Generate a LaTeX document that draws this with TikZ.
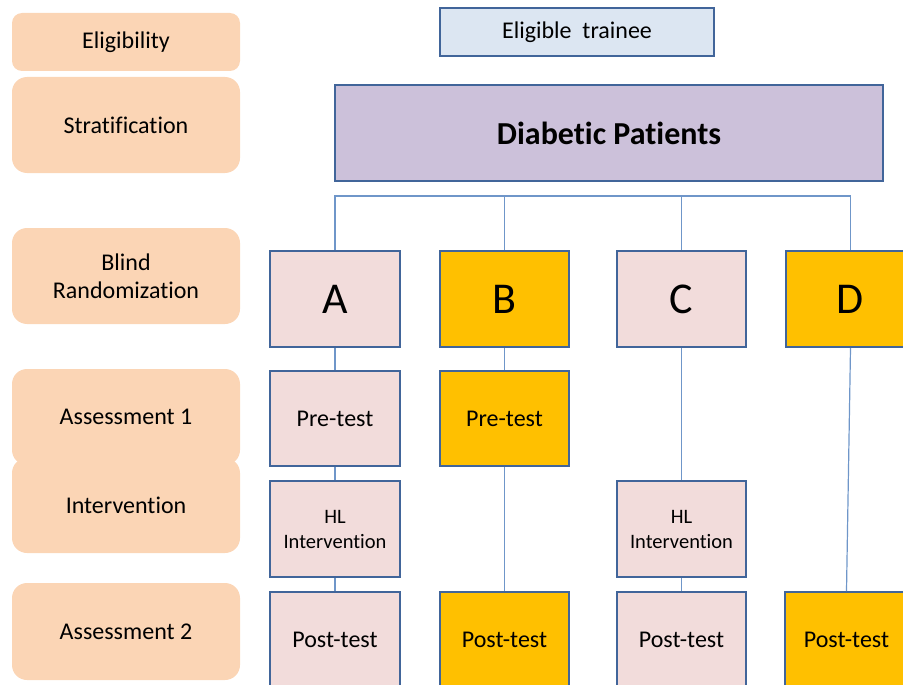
\documentclass[tikz,border=0pt]{standalone}
\usepackage{fontspec}
\setmainfont{Carlito}[Ligatures=NoCommon]
\definecolor{lblfill}{HTML}{FBD5B5}
\definecolor{trfill}{HTML}{DCE6F2}
\definecolor{dpfill}{HTML}{CCC1DA}
\definecolor{pinkfill}{HTML}{F2DCDB}
\definecolor{orfill}{HTML}{FFC000}
\definecolor{bordc}{HTML}{41659A}
\definecolor{connc}{HTML}{6F96C9}
\begin{document}
\begin{tikzpicture}[x=1pt,y=-1pt,
  lbl/.style={fill=lblfill, draw=none, rounded corners=15pt, minimum width=228pt, inner sep=0pt, align=center, font=\fontsize{24}{28}\selectfont},
  box/.style={draw=bordc, line width=2pt, inner sep=0pt, align=center, font=\fontsize{24}{29}\selectfont},
  pinkbox/.style={box, fill=pinkfill},
  orbox/.style={box, fill=orfill},
  letter/.style={font=\fontsize{44}{50}\selectfont, minimum height=96pt},
  conn/.style={draw=connc, line width=1.2pt}
]
\useasboundingbox (0,0) rectangle (903,685);
\clip (0,0) rectangle (903,685);
% left labels
\node[lbl, minimum height=58pt, rounded corners=10pt] (elig) at (126,42) {Eligibility};
\node[lbl, minimum height=96pt] (strat) at (126,125) {Stratification};
\node[lbl, minimum height=96pt] (blind) at (126,276) {Blind\\Randomization};
\node[lbl, minimum height=96pt] (ass1) at (126,417) {Assessment 1};
\node[lbl, minimum height=95pt] (interv) at (126,505.5) {Intervention};
\node[lbl, minimum height=97pt] (ass2) at (126,631.5) {Assessment 2};
% top boxes
\node[box, fill=trfill, minimum width=274pt, minimum height=48pt] (trainee) at (577,32) {Eligible~ trainee};
\node[box, fill=dpfill, minimum width=548pt, minimum height=96pt, font=\fontsize{32}{38}\selectfont\bfseries] (diab) at (609,133) {Diabetic Patients};
% groups
\node[pinkbox, letter, minimum width=130pt] (A) at (335,299) {A};
\node[orbox, letter, minimum width=129pt] (B) at (504.5,299) {B};
\node[pinkbox, letter, minimum width=129pt] (C) at (681.5,299) {C};
\node[orbox, letter, minimum width=129pt] (D) at (850.5,299) {D};
% pre-test
\node[pinkbox, minimum width=130pt, minimum height=95pt] (preA) at (335,418.5) {Pre-test};
\node[orbox, minimum width=129pt, minimum height=95pt] (preB) at (504.5,418.5) {Pre-test};
% interventions
\node[pinkbox, minimum width=130pt, minimum height=96pt, font=\fontsize{20.5}{25}\selectfont] (hlA) at (335,529) {HL\\Intervention};
\node[pinkbox, minimum width=129pt, minimum height=96pt, font=\fontsize{20.5}{25}\selectfont] (hlC) at (681.5,529) {HL\\Intervention};
% post-test
\node[pinkbox, minimum width=130pt, minimum height=96pt] (postA) at (335,640) {Post-test};
\node[orbox, minimum width=129pt, minimum height=96pt] (postB) at (504.5,640) {Post-test};
\node[pinkbox, minimum width=129pt, minimum height=96pt] (postC) at (681.5,640) {Post-test};
\node[orbox, minimum width=123pt, minimum height=96pt] (postD) at (846.5,640) {Post-test};
% connectors
\coordinate (bus) at (0,196);
\draw[conn] (A.north) -- (A.north |- bus) -- (D.north |- bus) -- (D.north);
\draw[conn] (B.north) -- (B.north |- bus);
\draw[conn] (C.north) -- (C.north |- bus);
\draw[conn] (A.south) -- (preA.north);
\draw[conn] (preA.south) -- (hlA.north);
\draw[conn] (hlA.south) -- (postA.north);
\draw[conn] (B.south) -- (preB.north);
\draw[conn] (preB.south) -- (postB.north);
\draw[conn] (C.south) -- (hlC.north);
\draw[conn] (hlC.south) -- (postC.north);
\draw[conn] (D.south) -- (postD.north);
\end{tikzpicture}
\end{document}
